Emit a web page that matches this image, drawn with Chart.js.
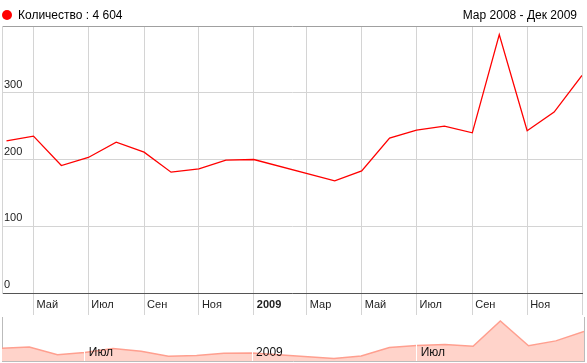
<!DOCTYPE html>
<html>
<head>
<meta charset="utf-8">
<script src="https://cdn.jsdelivr.net/npm/chart.js@4"></script>
<style>
  body { margin: 0; background: #fff; font-family: "Liberation Sans", Arial, sans-serif; }
  #wrap { position: relative; width: 587px; height: 363px; overflow: hidden; }
  .hdr { position: absolute; top: 8px; font-size: 12px; color: #000; line-height: 14px; }
  #legend { left: 18px; }
  #legend:before { content: ''; position: absolute; left: -16px; top: 2px; width: 10px; height: 10px; border-radius: 5px; background: #f00; }
  #range { right: 10px; }
  #main { position: absolute; left: 0; top: 0; }
  #nav { position: absolute; left: 0; top: 316px; }
</style>
</head>
<body>
<div id="wrap">
  <canvas id="main" width="587" height="316"></canvas>
  <canvas id="nav" width="587" height="47"></canvas>
  <div class="hdr" id="legend">Количество : 4 604</div>
  <div class="hdr" id="range">Мар 2008 - Дек 2009</div>
</div>
<script>
// данные по месяцам (Янв и Фев 2009 в данных нет)
const periods = ['2008-03','2008-04','2008-05','2008-06','2008-07','2008-08','2008-09','2008-10','2008-11','2008-12',
                 '2009-03','2009-04','2009-05','2009-06','2009-07','2009-08','2009-09','2009-10','2009-11','2009-12'];
const counts = [228, 235, 191, 203, 226, 211, 181, 186, 199, 200,
                168, 183, 232, 244, 250, 240, 387, 243, 271, 326];

// подписи оси X
const tickMonths = ['2008-05','2008-07','2008-09','2008-11','2009-01','2009-03','2009-05','2009-07','2009-09','2009-11'];
const tickLabels = ['Май','Июл','Сен','Ноя','2009','Мар','Май','Июл','Сен','Ноя'];
const navTickMonths = ['2008-07','2009-01','2009-07'];
const navTickLabels = ['Июл','2009','Июл'];
const yTicks = [0, 100, 200, 300, 400];

Chart.defaults.font.family = '"Liberation Sans", Arial, sans-serif';
Chart.defaults.animation = false;

// дни от 1 марта 2008
function dayOf(y, m, d) {
  return (Date.UTC(y, m - 1, d || 1) - Date.UTC(2008, 2, 1)) / 864e5;
}
function monthStart(p) {
  const [y, m] = p.split('-').map(Number);
  return dayOf(y, m);
}
// точка ставится на конец месяца
function monthEnd(p) {
  const [y, m] = p.split('-').map(Number);
  return dayOf(y, m + 1);
}

const points = periods.map((p, i) => ({ x: monthEnd(p), y: counts[i] }));
const xMin = dayOf(2008, 3, 27);
const xMax = monthEnd('2009-12');

new Chart(document.getElementById('main'), {
  type: 'line',
  data: {
    datasets: [{
      data: points,
      borderColor: '#ff0000',
      borderWidth: 1.3,
      pointRadius: 0,
      tension: 0
    }]
  },
  options: {
    responsive: false,
    layout: { padding: { top: 26, left: 2, right: 5, bottom: 0 } },
    plugins: { legend: { display: false }, tooltip: { enabled: false } },
    scales: {
      x: {
        type: 'linear',
        min: xMin,
        max: xMax,
        afterBuildTicks: s => {
          s.ticks = tickMonths.map(m => ({ value: monthStart(m) })).concat([{ value: xMax }]);
        },
        afterFit: s => { s.height = 23; },
        grid: { color: '#d4d4d4', tickLength: 22 },
        border: { color: '#555' },
        ticks: {
          autoSkip: false,
          maxRotation: 0,
          align: 'start',
          labelOffset: 3,
          padding: -17,
          color: '#222',
          font: ctx => ({ size: 11, weight: tickLabels[ctx.index] === '2009' ? 'bold' : 'normal' }),
          callback: (v, i) => tickLabels[i] || ''
        }
      },
      y: {
        min: 0,
        max: 400,
        afterBuildTicks: s => { s.ticks = yTicks.map(v => ({ value: v })); },
        afterFit: s => { s.width = 0; },
        grid: {
          color: ctx => (ctx.tick && ctx.tick.value === 400) ? '#a0a0a0' : '#d4d4d4',
          drawTicks: false
        },
        border: { color: '#d4d4d4' },
        ticks: {
          mirror: true,
          padding: 2,
          labelOffset: -8,
          color: '#222',
          font: { size: 11 },
          callback: v => v === 400 ? '' : v
        }
      }
    }
  }
});

// навигатор внизу
new Chart(document.getElementById('nav'), {
  type: 'line',
  data: {
    datasets: [{
      data: points,
      borderColor: '#ff9f8f',
      backgroundColor: '#ffd3ca',
      fill: 'start',
      borderWidth: 1.5,
      pointRadius: 0,
      tension: 0
    }]
  },
  options: {
    responsive: false,
    layout: { padding: { top: 1, left: 2, right: 3, bottom: 2 } },
    plugins: { legend: { display: false }, tooltip: { enabled: false } },
    scales: {
      x: {
        type: 'linear',
        min: points[0].x,
        max: xMax,
        afterBuildTicks: s => { s.ticks = navTickMonths.map(m => ({ value: monthStart(m) })); },
        afterFit: s => { s.height = 0; },
        // белые линии и подписи поверх заливки
        grid: { color: '#fff', drawTicks: false, z: 1 },
        border: { color: '#bbb', z: 1 },
        ticks: {
          z: 1,
          mirror: true, // подписи внутри области графика
          autoSkip: false,
          maxRotation: 0,
          align: 'start',
          labelOffset: 4,
          padding: 1,
          color: '#111',
          font: { size: 12 },
          callback: (v, i) => navTickLabels[i] || ''
        }
      },
      y: {
        min: 154,
        max: 410,
        afterFit: s => { s.width = 0; },
        grid: { display: false },
        border: { color: '#bbb' },
        ticks: { display: false }
      },
      y1: {
        position: 'right',
        min: 154,
        max: 410,
        afterFit: s => { s.width = 0; },
        grid: { display: false },
        border: { color: '#bbb' },
        ticks: { display: false }
      }
    }
  }
});
</script>
</body>
</html>
